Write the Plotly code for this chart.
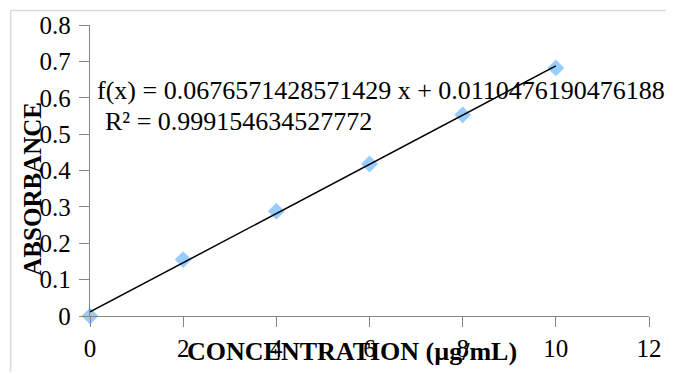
import numpy as np
import plotly.graph_objects as go

# Data
concentration = [0, 2, 4, 6, 8, 10]
absorbance = [0.0, 0.155, 0.288, 0.418, 0.553, 0.682]
x_ticks = [0, 2, 4, 6, 8, 10, 12]
y_ticks = [0, 0.1, 0.2, 0.3, 0.4, 0.5, 0.6, 0.7, 0.8]
eq_text = "f(x) = 0.0676571428571429 x + 0.0110476190476188"
r2_text = "R² = 0.999154634527772"
x_title = "CONCENTRATION (µg/mL)"
y_title = "ABSORBANCE"

W, H = 674, 374
L, R, T, B = 90, 17, 25, 56

slope, intercept = np.polyfit(concentration, absorbance, 1)
tx = [min(concentration), max(concentration)]
ty = [slope * v + intercept for v in tx]

def px(xp):
    return (xp - L) / (W - L - R)

def py(yp):
    return (H - B - yp) / (H - T - B)

fig = go.Figure()
fig.add_trace(go.Scatter(x=concentration, y=absorbance, mode="markers",
                         marker=dict(symbol="diamond", size=13, color="#99CCFF"),
                         showlegend=False, cliponaxis=False))
fig.add_trace(go.Scatter(x=tx, y=ty, mode="lines",
                         line=dict(color="black", width=1.5),
                         showlegend=False))

font = "Liberation Serif, Times New Roman, serif"
axis_common = dict(showgrid=False, zeroline=False, showline=True,
                   linecolor="#868686", linewidth=1.3,
                   ticks="outside", ticklen=10, tickcolor="#868686", tickwidth=1.3,
                   tickfont=dict(family=font, size=25, color="black"))
fig.update_xaxes(range=[0, 12], tickvals=x_ticks, ticktext=[str(v) for v in x_ticks], **axis_common)
fig.update_yaxes(range=[0, 0.8], tickvals=y_ticks, ticklabelstandoff=3,
                 ticktext=["0"] + [f"{v:.1f}" for v in y_ticks[1:]], **axis_common)

fig.add_annotation(text=eq_text, xref="paper", yref="paper", x=px(95), y=py(91),
                   xanchor="left", yanchor="middle", showarrow=False,
                   font=dict(family=font, size=26, color="black"))
fig.add_annotation(text=r2_text, xref="paper", yref="paper", x=px(103), y=py(122),
                   xanchor="left", yanchor="middle", showarrow=False,
                   font=dict(family=font, size=26, color="black"))
fig.add_annotation(text="<b>" + x_title + "</b>", xref="paper", yref="paper", x=px(356), y=py(354),
                   xanchor="center", yanchor="middle", showarrow=False,
                   font=dict(family=font, size=26, color="black"))
fig.add_annotation(text="<b>" + y_title + "</b>", xref="paper", yref="paper", x=px(32), y=py(190),
                   xanchor="center", yanchor="middle", showarrow=False, textangle=-90,
                   font=dict(family=font, size=25, color="black"))

# chart frame (only top and left edges visible in the crop)
fig.add_shape(type="line", xref="paper", yref="paper",
              x0=px(9.5), y0=py(10.5), x1=px(674), y1=py(10.5),
              line=dict(color="#D9D9D9", width=1.5), layer="below")
fig.add_shape(type="line", xref="paper", yref="paper",
              x0=px(9.5), y0=py(10.5), x1=px(9.5), y1=py(374),
              line=dict(color="#D9D9D9", width=1.5), layer="below")

fig.update_layout(width=W, height=H, margin=dict(l=L, r=R, t=T, b=B),
                  paper_bgcolor="white", plot_bgcolor="white")
fig.write_html("out.html")
